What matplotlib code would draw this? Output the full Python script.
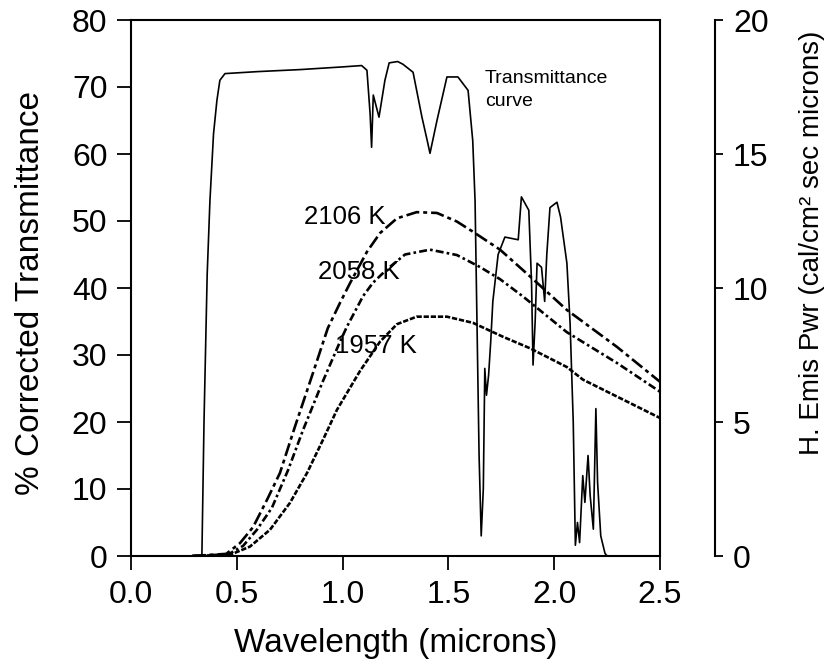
import matplotlib
matplotlib.use('Agg')
import matplotlib.pyplot as plt

plt.rcParams['font.family'] = ['Liberation Sans', 'DejaVu Sans']

# Transmittance curve (% corrected transmittance, left axis)
wl_trans = [0.30, 0.335, 0.345, 0.36, 0.373, 0.39, 0.406, 0.42, 0.444, 0.6, 0.8, 1.0,
            1.09, 1.115, 1.13, 1.137, 1.145, 1.172, 1.2, 1.22, 1.26, 1.285, 1.333,
            1.375, 1.40, 1.413, 1.446, 1.493, 1.545, 1.593, 1.615, 1.626, 1.635, 1.645,
            1.655, 1.665, 1.672, 1.68, 1.69, 1.70, 1.71, 1.735, 1.767, 1.83, 1.845,
            1.88, 1.893, 1.90, 1.91, 1.919, 1.94, 1.955, 1.965, 1.98, 2.013, 2.03,
            2.06, 2.075, 2.09, 2.10, 2.11, 2.12, 2.135, 2.145, 2.16, 2.17, 2.185,
            2.197, 2.205, 2.22, 2.24, 2.25, 2.5]
trans = [0, 0, 20, 42, 53, 63, 68, 71, 72, 72.3, 72.6, 73.0,
         73.2, 72.5, 66, 61, 68.8, 65.5, 71, 73.6, 73.8, 73.4, 72.2,
         65.5, 62, 60.1, 65, 71.5, 71.5, 69.5, 62, 53, 35, 15,
         3, 10, 28, 24, 27, 32, 38, 45, 47.6, 47.2, 53.6,
         51.6, 40.7, 28.5, 35, 43.7, 43.1, 38, 45, 52, 52.8, 50.6,
         43.7, 34.8, 20, 1.6, 5, 2, 12, 8, 15, 9, 4,
         22, 11, 3, 0.4, 0, 0]

# Hemispherical emissive power (cal/cm2 sec microns, right axis)
wl_2106 = [0.29, 0.45, 0.515, 0.577, 0.643, 0.704, 0.775, 0.86, 0.93, 0.988, 1.035, 1.115,
           1.177, 1.257, 1.35, 1.446, 1.54, 1.616, 1.744, 1.886, 2.06, 2.297, 2.5]
pwr_2106 = [0, 0.08, 0.48, 1.08, 2.1, 3.1, 4.83, 6.83, 8.5, 9.45, 10.18, 11.35,
            12.05, 12.6, 12.83, 12.8, 12.48, 12.1, 11.43, 10.43, 9.18, 7.8, 6.5]

wl_2058 = [0.29, 0.46, 0.53, 0.595, 0.666, 0.742, 0.813, 0.903, 0.988, 1.02, 1.097,
           1.144, 1.21, 1.295, 1.413, 1.54, 1.65, 1.744, 1.853, 2.06, 2.297, 2.5]
pwr_2058 = [0, 0.06, 0.38, 0.98, 1.8, 3.2, 4.7, 6.45, 8.0, 8.55, 9.7,
            10.2, 10.7, 11.25, 11.43, 11.23, 10.78, 10.33, 9.68, 8.35, 7.2, 6.13]

wl_1957 = [0.29, 0.47, 0.562, 0.657, 0.751, 0.832, 0.907, 0.973, 1.082, 1.177, 1.257,
           1.35, 1.493, 1.616, 1.758, 1.886, 2.06, 2.136, 2.5]
pwr_1957 = [0, 0.05, 0.35, 0.98, 1.98, 3.1, 4.33, 5.45, 6.9, 8.0, 8.65,
            8.93, 8.93, 8.7, 8.18, 7.75, 7.05, 6.58, 5.15]

labels = ['2106 K', '2058 K', '1957 K']
label_x = [1.01, 1.077, 1.158]
label_y = [50.6, 42.4, 31.3]

fig = plt.figure(figsize=(8.31, 6.62), dpi=100)
ax = fig.add_axes([131 / 831, 1 - 556 / 662, 529 / 831, 536 / 662])

ax.plot(wl_trans, trans, color='black', linewidth=1.2)
ax.set_xlim(0, 2.5)
ax.set_ylim(0, 80)
ax.set_xticks([0.0, 0.5, 1.0, 1.5, 2.0, 2.5])
ax.set_xticklabels(['0.0', '0.5', '1.0', '1.5', '2.0', '2.5'])
ax.set_yticks(range(0, 81, 10))
ax.tick_params(axis='both', direction='out', length=10, width=1.3, labelsize=23, pad=7,
               top=False, right=False)
for s in ax.spines.values():
    s.set_linewidth(1.5)
ax.set_xlabel('Wavelength (microns)', fontsize=24)
ax.set_ylabel('% Corrected Transmittance', fontsize=24)
ax.yaxis.set_label_coords(-0.16, 0.49)
ax.xaxis.set_label_coords(0.5, -0.135)

ax.text(1.673, 69.6, 'Transmittance\ncurve', fontsize=14, ha='left', va='center',
        linespacing=1.45)
for t, x, y in zip(labels, label_x, label_y):
    ax.text(x, y, t, fontsize=18.5, ha='center', va='center')

ax2 = ax.twinx()
ax2.plot(wl_2106, pwr_2106, color='black', linewidth=1.9, linestyle=(0, (5, 1.5, 1.5, 1.5)))
ax2.plot(wl_2058, pwr_2058, color='black', linewidth=1.9, linestyle=(0, (3, 1.2, 1, 1.2)))
ax2.plot(wl_1957, pwr_1957, color='black', linewidth=1.9, linestyle=(0, (2, 0.7)))
ax2.set_ylim(0, 20)
ax2.set_yticks([0, 5, 10, 15, 20])
for side in ['top', 'bottom', 'left']:
    ax2.spines[side].set_visible(False)
ax2.spines['right'].set_position(('outward', 39.6))
ax2.spines['right'].set_linewidth(1.5)
ax2.tick_params(axis='y', direction='out', length=6, width=1.3, labelsize=23, pad=7)
ax2.set_ylabel('H. Emis Pwr (cal/cm² sec microns)', fontsize=20)
ax2.yaxis.set_label_coords(1.262, 0.584)

fig.savefig('out.png', dpi=100)
